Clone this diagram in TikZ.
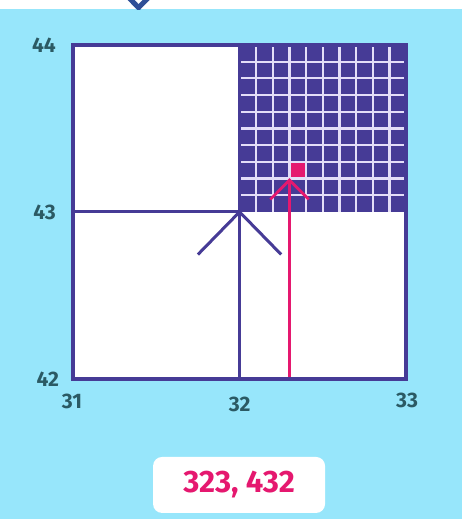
\documentclass[tikz,border=0pt]{standalone}
\usepackage{fontspec}
\setmainfont{Fira Sans}
\usetikzlibrary{positioning}

\definecolor{skyblue}{HTML}{97E6FB}
\definecolor{navy}{HTML}{463B96}
\definecolor{gridline}{HTML}{E4DEF8}
\definecolor{hotpink}{HTML}{E5186F}
\definecolor{labelteal}{HTML}{2B5A64}
\definecolor{topblue}{HTML}{2F4F97}

\begin{document}
\begin{tikzpicture}[x=166.5pt, y=167pt,
    axislabel/.style={text=labelteal, font=\fontsize{21}{21}\selectfont\bfseries, inner sep=0pt},
    navyline/.style={draw=navy, line width=3pt},
    pinkline/.style={draw=hotpink, line width=2.8pt}]
    % canvas
    \useasboundingbox (30.5616,41.1617) rectangle (33.3363,44.2695);
    \fill[skyblue] (30.5616,41.1617) rectangle (33.3363,44.2695);
    \fill[white] (30.5616,44.2156) rectangle (33.3363,44.2695);
    \begin{scope}
        \clip (30.5616,44.21) rectangle (33.3363,44.2695);
        \draw[topblue, line width=5pt, line join=miter] (31.318,44.30) -- (31.3934,44.2230) -- (31.4685,44.30);
    \end{scope}

    % named corners
    \coordinate (SW) at (31,42);
    \coordinate (NE) at (33,44);
    \coordinate (C) at (32,43);
    \coordinate (W) at (31,43);
    \coordinate (S) at (32,42);
    \coordinate (N) at (32,44);

    % white field and the square of hundredths
    \fill[white] (SW) rectangle (NE);
    \fill[navy] (C) rectangle (NE);
    \foreach \i in {1,...,9} {
        \draw[gridline, line width=2.2pt] (32+\i/10,43) -- (32+\i/10,44);
        \draw[gridline, line width=2.2pt] (32,43+\i/10) -- (33,43+\i/10);
    }
    \fill[hotpink] (32.307,43.207) rectangle (32.393,43.293);

    % lines of the first step
    \draw[navyline] (W) -- (C);
    \draw[navyline] (C) -- (N);
    \draw[navyline] (S) -- (C);
    \coordinate (navyL) at (31.75,42.745);
    \coordinate (navyR) at (32.25,42.745);
    \draw[navyline] (navyL) -- (C) -- (navyR);

    % lines of the second step
    \coordinate (pinkfoot) at (32.3,42);
    \coordinate (pinktip) at (32.3,43.19);
    \coordinate (pinkL) at (32.185,43.075);
    \coordinate (pinkR) at (32.415,43.075);
    \draw[pinkline] (pinkfoot) -- (pinktip);
    \draw[pinkline] (pinkL) -- (pinktip) -- (pinkR);

    % frame
    \draw[navy, line width=3.2pt] (SW) rectangle (NE);

    % axis labels
    \node[axislabel, anchor=east, xshift=-17pt] (y44) at (31,44) {44};
    \node[axislabel, anchor=east, xshift=-17pt] (y43) at (31,43) {43};
    \node[axislabel, anchor=east, xshift=-14pt] (y42) at (31,42) {42};
    \node[axislabel, anchor=north, yshift=-15pt, xshift=-1pt] (x31) at (31,42) {31};
    \node[axislabel, anchor=north, yshift=-18pt] (x32) at (32,42) {32};
    \node[axislabel, anchor=north, yshift=-14pt, xshift=1pt] (x33) at (33,42) {33};

    % result
    \node[fill=white, rounded corners=9pt, minimum width=172pt, minimum height=56pt,
          text=hotpink, font=\fontsize{31}{31}\selectfont\bfseries] (result) at (31.997,41.365) {323, 432};
\end{tikzpicture}
\end{document}
